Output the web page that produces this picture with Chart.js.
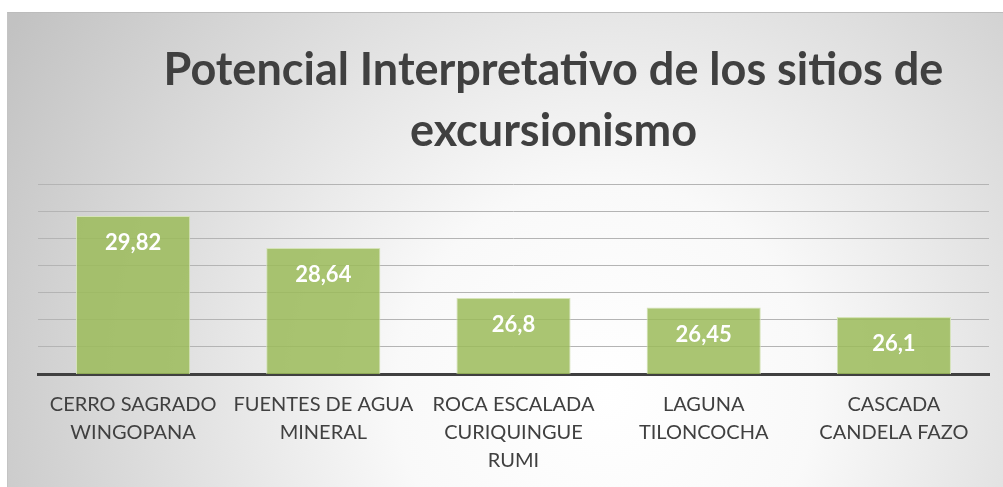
<!DOCTYPE html>
<html>
<head>
<meta charset="utf-8">
<script src="https://cdn.jsdelivr.net/npm/chart.js@4"></script>
<style>
  html, body { margin: 0; padding: 0; background: #fff; }
  #wrap {
    position: absolute; left: 7px; top: 12px;
    width: 996px; height: 475px;
    border-top: 1px solid #bcbcbc; border-left: 1px solid #c4c4c4;
  }
</style>
</head>
<body>
<div id="wrap"><canvas id="potencialChart"></canvas></div>
<script>
const titleLines = ["Potencial Interpretativo de los sitios de", "excursionismo"];
const sitios = [
  ["CERRO SAGRADO", "WINGOPANA"],
  ["FUENTES DE AGUA", "MINERAL"],
  ["ROCA ESCALADA", "CURIQUINGUE", "RUMI"],
  ["LAGUNA", "TILONCOCHA"],
  ["CASCADA", "CANDELA FAZO"]
];
const puntajes = [29.82, 28.64, 26.8, 26.45, 26.1];
const yMin = 24, yMax = 31, yStep = 1;

const fondo = {
  id: 'fondo',
  beforeDraw(chart) {
    const { ctx, width, height } = chart;
    const g = ctx.createRadialGradient(width * 0.6, height * 0.8, 0, width * 0.6, height * 0.8, width * 0.7);
    g.addColorStop(0, '#ffffff');
    g.addColorStop(0.3, '#f9f9f9');
    g.addColorStop(1, '#c2c2c2');
    ctx.save();
    ctx.fillStyle = g;
    ctx.fillRect(0, 0, width, height);
    ctx.restore();
  }
};

const titulo = {
  id: 'titulo',
  afterDraw(chart) {
    const { ctx, chartArea } = chart;
    const cx = (chartArea.left + chartArea.right) / 2 + 40;
    ctx.save();
    ctx.fillStyle = '#404040';
    ctx.font = 'bold 45px Lato';
    ctx.textAlign = 'center';
    ctx.textBaseline = 'alphabetic';
    ctx.fillText(titleLines[0], cx, 72);
    ctx.fillText(titleLines[1], cx, 133);
    ctx.restore();
  }
};

const etiquetas = {
  id: 'etiquetas',
  afterDatasetsDraw(chart) {
    const { ctx } = chart;
    const meta = chart.getDatasetMeta(0);
    ctx.save();
    ctx.fillStyle = '#ffffff';
    ctx.font = 'bold 22px Lato';
    ctx.textAlign = 'center';
    ctx.textBaseline = 'middle';
    meta.data.forEach((bar, i) => {
      ctx.fillText(String(puntajes[i]).replace('.', ','), bar.x, bar.y + 27);
    });
    ctx.restore();
  }
};

new Chart(
  document.getElementById("potencialChart"),
  {
    type: 'bar',
    data: {
      labels: sitios,
      datasets: [{
        data: puntajes,
        backgroundColor: "rgba(155,187,89,0.85)",
        borderColor: "#d5e3b8",
        borderWidth: 1,
        categoryPercentage: 0.6,
        barPercentage: 1
      }]
    },
    options: {
      responsive: true,
      maintainAspectRatio: false,
      animation: false,
      layout: { padding: { left: 30, right: 15, top: 171, bottom: 0 } },
      plugins: {
        legend: { display: false },
        title: { display: false },
        tooltip: { enabled: false }
      },
      scales: {
        x: {
          grid: { display: false, drawTicks: false },
          border: { color: '#404040', width: 3 },
          ticks: {
            color: '#404040',
            font: { family: 'Lato', size: 20, lineHeight: 1.4 },
            padding: 17,
            maxRotation: 0,
            autoSkip: false
          },
          afterFit(scale) { scale.height = 114; }
        },
        y: {
          min: yMin,
          max: yMax,
          ticks: { display: false, stepSize: yStep },
          grid: { color: '#b4b4b4', lineWidth: 1, drawTicks: false },
          border: { display: false },
          afterFit(scale) { scale.width = 0; }
        }
      }
    },
    plugins: [fondo, titulo, etiquetas]
  }
);
</script>
</body>
</html>
